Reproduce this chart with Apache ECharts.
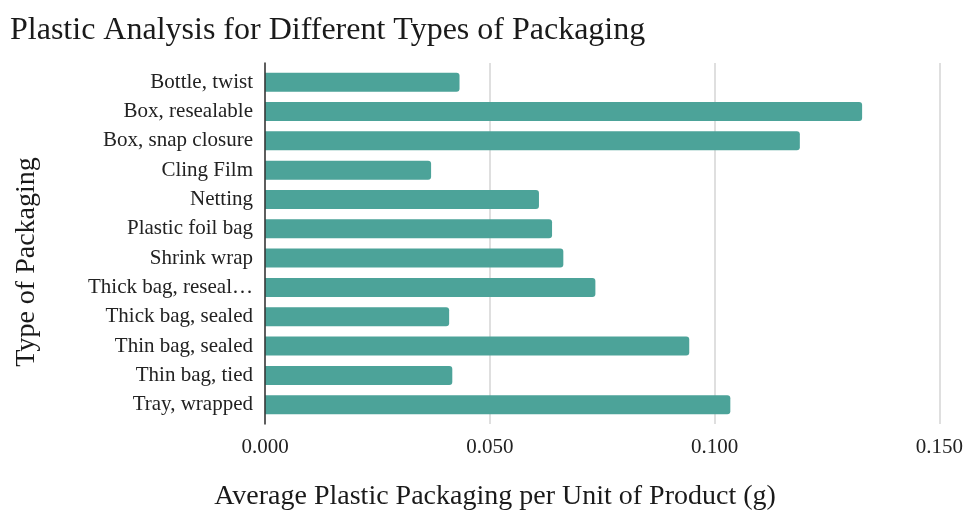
<!DOCTYPE html>
<html>
<head>
<meta charset="utf-8">
<script src="https://cdn.jsdelivr.net/npm/echarts@6/dist/echarts.min.js"></script>
<style>
html,body{margin:0;padding:0;background:#fff;}
#chart{width:966px;height:511px;}
</style>
</head>
<body>
<div id="chart"></div>
<script>
const categories = [
  "Bottle, twist",
  "Box, resealable",
  "Box, snap closure",
  "Cling Film",
  "Netting",
  "Plastic foil bag",
  "Shrink wrap",
  "Thick bag, reseal\u2026",
  "Thick bag, sealed",
  "Thin bag, sealed",
  "Thin bag, tied",
  "Tray, wrapped"
];
const values = [0.0431, 0.1323, 0.1185, 0.0368, 0.0607, 0.0636, 0.0661, 0.0732, 0.0408, 0.0940, 0.0415, 0.1031];
const xTicks = { min: 0, max: 0.15, interval: 0.05 };
const titleText = "Plastic Analysis for Different Types of Packaging";
const xName = "Average Plastic Packaging per Unit of Product (g)";
const yName = "Type of Packaging";

const FONT = "'Liberation Serif', 'Times New Roman', serif";
const chart = echarts.init(document.getElementById('chart'));
chart.setOption({
  animation: false,
  backgroundColor: '#ffffff',
  title: {
    text: titleText,
    left: 5, top: 10,
    textStyle: { fontFamily: FONT, fontSize: 32, fontWeight: 'normal', color: '#1a1a1a' }
  },
  grid: [
    { left: 265, right: 24, top: 67.5, bottom: 91.6 },
    { left: 265, right: 24, top: 63, bottom: 87 }
  ],
  xAxis: [
    { gridIndex: 0, type: 'value', min: xTicks.min, max: xTicks.max, interval: xTicks.interval, show: false },
    { gridIndex: 1, type: 'value', min: xTicks.min, max: xTicks.max, interval: xTicks.interval,
      axisLine: { show: false }, axisTick: { show: false },
      splitLine: { show: true, lineStyle: { color: '#d4d4d4', width: 1.5 } },
      axisLabel: { margin: 13, fontFamily: FONT, fontSize: 21, color: '#222',
        formatter: v => v.toFixed(3) } }
  ],
  yAxis: [
    { gridIndex: 0, type: 'category', data: categories, inverse: true,
      axisLine: { show: false }, axisTick: { show: false }, splitLine: { show: false },
      axisLabel: { margin: 12, fontFamily: FONT, fontSize: 21, color: '#222' } },
    { gridIndex: 1, type: 'value', min: 0, max: 1, axisLabel: { show: false }, axisTick: { show: false },
      splitLine: { show: false }, axisLine: { show: true, lineStyle: { color: '#333', width: 1.5 } }, z: 5 }
  ],
  graphic: [
    { type: 'text', x: 495, y: 497,
      style: { text: xName, fontFamily: FONT, fontSize: 28, fill: '#1a1a1a', align: 'center', verticalAlign: 'middle' } },
    { type: 'text', x: 27, y: 262, rotation: Math.PI / 2,
      style: { text: yName, fontFamily: FONT, fontSize: 28, fill: '#1a1a1a', align: 'center', verticalAlign: 'middle' } }
  ],
  series: [{
    type: 'bar',
    xAxisIndex: 0, yAxisIndex: 0,
    data: values,
    barWidth: 19,
    itemStyle: { color: '#4ca399', borderRadius: [0, 3, 3, 0] },
    z: 3
  }]
});
</script>
</body>
</html>
